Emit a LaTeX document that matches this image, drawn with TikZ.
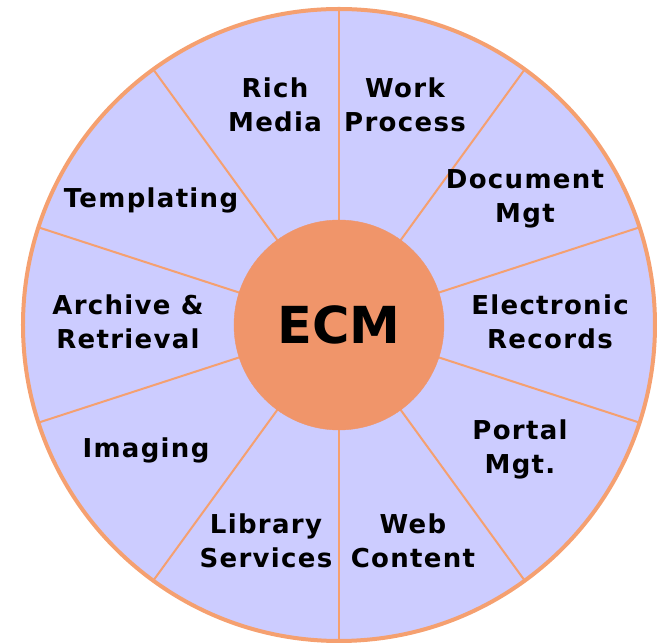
\documentclass[tikz,border=0pt]{standalone}
\usepackage{fontspec}
\setmainfont{DejaVu Sans}
\newfontfamily\wheelfont[LetterSpace=5]{DejaVu Sans}
\usepackage{tikz}
\definecolor{wheelc}{RGB}{204,204,255}
\definecolor{rimc}{RGB}{245,160,112}
\definecolor{hubc}{RGB}{240,149,106}

\begin{document}
\begin{tikzpicture}[x=1pt,y=1pt,
  seg/.style={align=center,inner sep=1pt,font=\wheelfont\bfseries\fontsize{26}{34}\selectfont}]
\useasboundingbox (-339,-319) rectangle (323,325);
\fill[wheelc] (0,0) circle (317);
\foreach \ang in {90,54,...,-234}{\draw[rimc,line width=2pt] (0,0)--(\ang:317);}
\draw[rimc,line width=4pt] (0,0) circle (316);
\node[circle,fill=hubc,draw=hubc,minimum size=210pt,inner sep=0pt,font=\bfseries\fontsize{51}{51}\selectfont] (ecm) at (0,0){ECM};
\foreach \xp/\yp/\lab [count=\i] in {-64/220/Rich\\Media, 66/220/Work\\Process, 186/126/Document\\Mgt,
  211/3/Electronic\\Records, 181/-124/Portal\\Mgt., 74/-216/Web\\Content, -73/-216/Library\\Services,
  -193/-125/Imaging, -211/3/Archive \&\\Retrieval, -188/125/Templating}{\node[seg] (seg\i) at (\xp,\yp){\lab};}
\end{tikzpicture}
\end{document}
